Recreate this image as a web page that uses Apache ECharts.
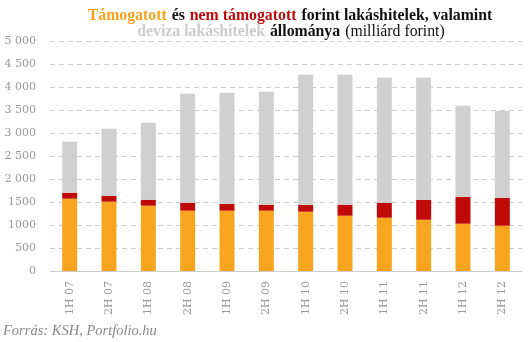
<!DOCTYPE html>
<html><head><meta charset="utf-8">
<script src="https://cdn.jsdelivr.net/npm/echarts@6/dist/echarts.min.js"></script>
<style>html,body{margin:0;padding:0;background:#fff}#c{width:531px;height:342px}</style>
</head><body><div id="c"></div>
<script>
var categories = ['1H 07','2H 07','1H 08','2H 08','1H 09','2H 09','1H 10','2H 10','1H 11','2H 11','1H 12','2H 12'];
var supported = [1572,1507,1420,1311,1311,1311,1289,1202,1159,1115,1028,985];
var unsupported = [130,130,130,174,152,130,152,239,326,435,587,608];
var foreignCurrency = [1109,1456,1674,2369,2413,2457,2826,2826,2717,2652,1978,1892];
var yTickLabels = {0:'0',500:'500',1000:'1000',1500:'1500',2000:'2 000',2500:'2 500',3000:'3 000',3500:'3 500',4000:'4 000',4500:'4 500',5000:'5 000'};

var chart = echarts.init(document.getElementById('c'), null, {renderer:'canvas'});
var serif = 'Liberation Serif';
var fs = 15.8;
chart.setOption({
  animation:false,
  backgroundColor:'#fff',
  title:[{
    left:285, top:2, textAlign:'center',
    text:'{o|Támogatott} {k|és} {r|nem támogatott} {k|forint lakáshitelek, valamint}',
    textStyle:{rich:{
      o:{color:'#f7a21b',fontWeight:'bold',fontSize:fs,fontFamily:serif},
      k:{color:'#111',fontWeight:'bold',fontSize:fs,fontFamily:serif},
      r:{color:'#c00a0a',fontWeight:'bold',fontSize:fs,fontFamily:serif}
    }}
  },{
    left:286, top:18, textAlign:'center',
    text:'{g|deviza lakáshitelek} {k|állománya} {n|(milliárd forint)}',
    textStyle:{rich:{
      g:{color:'#cccccc',fontWeight:'bold',fontSize:fs,fontFamily:serif},
      k:{color:'#111',fontWeight:'bold',fontSize:fs,fontFamily:serif},
      n:{color:'#111',fontWeight:'normal',fontSize:fs,fontFamily:serif}
    }}
  }],
  graphic:[{
    type:'text', left:3, top:324,
    style:{text:'Forrás: KSH, Portfolio.hu', fill:'#888', font:'italic 14.5px "Liberation Serif"'}
  }],
  grid:{left:50, right:9, top:41, bottom:71},
  xAxis:{
    type:'category', data:categories,
    axisLine:{lineStyle:{color:'#cccccc',width:1}},
    axisTick:{show:false},
    axisLabel:{rotate:90, margin:10, color:'#999', fontSize:11, fontFamily:'DejaVu Serif'}
  },
  yAxis:{
    type:'value', min:0, max:5000, interval:500,
    axisLine:{show:false}, axisTick:{show:false},
    axisLabel:{margin:14, color:'#999', fontSize:11, fontFamily:'DejaVu Serif',
      formatter:function(v){return yTickLabels[v];}},
    splitLine:{lineStyle:{color:'#cccccc',type:[5,4],width:1}}
  },
  series:[
    {type:'bar', stack:'a', data:supported, barWidth:15, itemStyle:{color:'#f7a51e'}},
    {type:'bar', stack:'a', data:unsupported, barWidth:15, itemStyle:{color:'#c00a0a'}},
    {type:'bar', stack:'a', data:foreignCurrency, barWidth:15, itemStyle:{color:'#d0d0d0'}}
  ]
});
</script></body></html>
